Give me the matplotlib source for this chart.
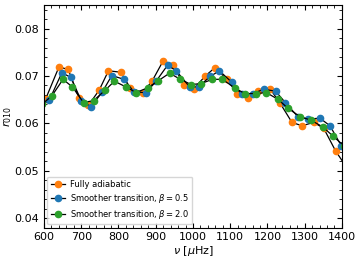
import numpy as np
import matplotlib
matplotlib.use("Agg")
import matplotlib.pyplot as plt
from matplotlib.ticker import AutoMinorLocator

# r010 ratios (points outside 600-1400 are clipped)
nu_adiab = [578, 604, 640, 665, 694, 719, 748, 773, 806, 831, 865, 890, 920, 946,
            977, 1002, 1033, 1058, 1092, 1118, 1148, 1175, 1208, 1233, 1266, 1293,
            1324, 1351, 1383, 1412]
r_adiab = [0.0630, 0.0651, 0.0719, 0.0714, 0.0653, 0.0638, 0.0670, 0.0711, 0.0708,
           0.0675, 0.0665, 0.0689, 0.0732, 0.0724, 0.0680, 0.0673, 0.0700, 0.0717,
           0.0693, 0.0663, 0.0654, 0.0668, 0.0672, 0.0644, 0.0602, 0.0595, 0.0602,
           0.0590, 0.0542, 0.0508]

nu_b05 = [588, 614, 648, 672, 700, 726, 757, 782, 815, 842, 874, 901, 932, 955,
          991, 1015, 1046, 1071, 1104, 1131, 1161, 1190, 1222, 1248, 1282, 1309,
          1341, 1368, 1399, 1425]
r_b05 = [0.0635, 0.0649, 0.0707, 0.0697, 0.0648, 0.0635, 0.0667, 0.0701, 0.0693,
         0.0666, 0.0665, 0.0689, 0.0723, 0.0711, 0.0677, 0.0677, 0.0699, 0.0711,
         0.0687, 0.0661, 0.0663, 0.0672, 0.0668, 0.0644, 0.0614, 0.0609, 0.0611,
         0.0595, 0.0552, 0.0530]

nu_b20 = [594, 621, 651, 676, 706, 733, 764, 789, 820, 847, 878, 905, 937, 964,
          995, 1022, 1052, 1079, 1112, 1139, 1170, 1197, 1228, 1255, 1288, 1316,
          1348, 1375, 1405]
r_b20 = [0.0640, 0.0658, 0.0693, 0.0677, 0.0644, 0.0648, 0.0670, 0.0689, 0.0677,
         0.0665, 0.0675, 0.0689, 0.0706, 0.0694, 0.0682, 0.0684, 0.0693, 0.0693,
         0.0675, 0.0663, 0.0663, 0.0665, 0.0651, 0.0632, 0.0614, 0.0607, 0.0593,
         0.0574, 0.0553]

labels = ["Fully adiabatic",
          r"Smoother transition, $\beta = 0.5$",
          r"Smoother transition, $\beta = 2.0$"]

fig = plt.figure(figsize=(3.61, 2.61), dpi=100)
ax = fig.add_axes([0.122, 0.128, 0.825, 0.853])

for nu, r, c, lab in [(nu_adiab, r_adiab, "C1", labels[0]),
                      (nu_b05, r_b05, "C0", labels[1]),
                      (nu_b20, r_b20, "C2", labels[2])]:
    ax.plot(nu, r, "o-", color="k", lw=0.9, ms=4.5, mfc=c, mec=c, label=lab)

ax.set_xlim(600, 1400)
ax.set_ylim(0.038, 0.085)
ax.set_yticks([0.04, 0.05, 0.06, 0.07, 0.08])
ax.xaxis.set_minor_locator(AutoMinorLocator())
ax.yaxis.set_minor_locator(AutoMinorLocator())
ax.tick_params(which="both", direction="in", top=True, right=True, labelsize=8)
ax.tick_params(which="major", length=3.5)
ax.tick_params(which="minor", length=2)
ax.set_xlabel(r"$\nu$ [$\mu$Hz]", fontsize=8, labelpad=1)
ax.set_ylabel(r"$r_{010}$", fontsize=8, labelpad=0)
ax.legend(loc="lower left", fontsize=6, handlelength=1.7, labelspacing=0.35,
          handletextpad=0.6, borderaxespad=0.4)

fig.savefig("out.png", dpi=100)
